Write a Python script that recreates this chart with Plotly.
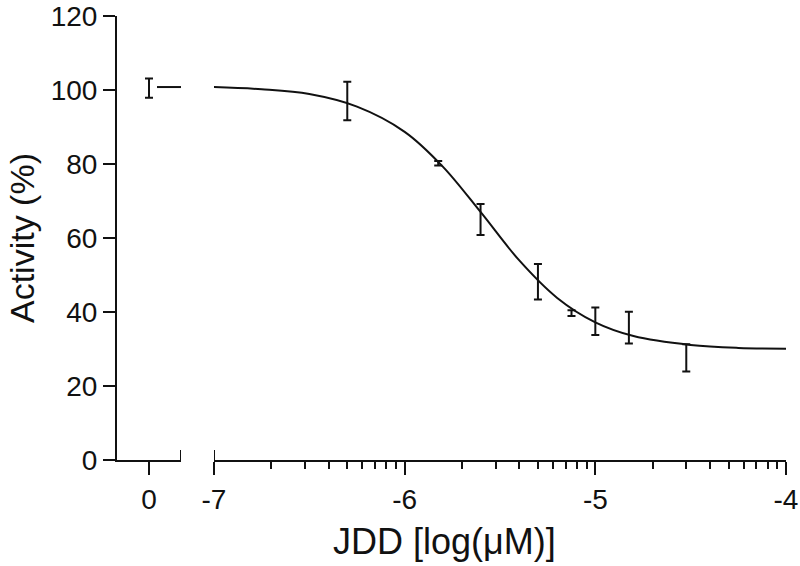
import numpy as np
import plotly.graph_objects as go

# ---------------- data ----------------
ctrl_x = [0.0]
ctrl_mean = [100.5]
ctrl_err = [2.6]

log_conc = [-6.301, -5.824, -5.602, -5.301, -5.125, -5.0, -4.824, -4.523]
activity_mean = [97.0, 80.2, 65.0, 48.2, 39.7, 37.5, 35.8, 27.6]
activity_err = [5.2, 0.6, 4.2, 4.8, 0.8, 3.7, 4.3, 3.7]

# fitted curve
curve_x = [-7.0, -6.75, -6.5, -6.25, -6.0, -5.8, -5.6, -5.4, -5.2, -5.0, -4.8, -4.5, -4.25, -4.0]
curve_y = [100.8, 100.2, 98.9, 95.5, 88.7, 79.3, 66.9, 54.0, 43.8, 37.2, 33.5, 31.1, 30.3, 30.1]

# top plateau drawn in the control segment
ctrl_curve_x = [0.25, 1.0]
ctrl_curve_y = [100.8, 100.8]

y_ticks = [0, 20, 40, 60, 80, 100, 120]
seg1_range = [-1.0, 1.0]
seg2_range = [-7.0, -4.0]
seg2_major = [-7, -6, -5, -4]
seg2_labels = ["-7", "-6", "-5", "-4"]
seg2_minor = [d + np.log10(k) for d in [-7, -6, -5] for k in range(2, 10)]

FONT = "Arial, 'Liberation Sans', Helvetica, sans-serif"
BLACK = "#111111"

fig = go.Figure()

fig.add_trace(go.Scatter(
    x=ctrl_curve_x, y=ctrl_curve_y, xaxis="x", yaxis="y", mode="lines",
    line=dict(color=BLACK, width=2), cliponaxis=False, showlegend=False, hoverinfo="skip"))
fig.add_trace(go.Scatter(
    x=ctrl_x, y=ctrl_mean, xaxis="x", yaxis="y", mode="markers",
    marker=dict(size=1, color="rgba(0,0,0,0)"),
    error_y=dict(type="data", array=ctrl_err, color=BLACK, thickness=2, width=4),
    cliponaxis=False, showlegend=False))

fig.add_trace(go.Scatter(
    x=curve_x, y=curve_y, xaxis="x2", yaxis="y", mode="lines",
    line=dict(color=BLACK, width=2, shape="spline", smoothing=1.0),
    cliponaxis=False, showlegend=False, hoverinfo="skip"))
fig.add_trace(go.Scatter(
    x=log_conc, y=activity_mean, xaxis="x2", yaxis="y", mode="markers",
    marker=dict(size=1, color="rgba(0,0,0,0)"),
    error_y=dict(type="data", array=activity_err, color=BLACK, thickness=2, width=4),
    cliponaxis=False, showlegend=False))

L, R, T, B = 117, 14, 16, 106
W, H = 800, 566
pw = W - L - R
seg1_end = (181 - L) / pw
seg2_start = (214 - L) / pw

axis_common = dict(
    showline=True, linecolor=BLACK, linewidth=2, showgrid=False, zeroline=False,
    ticks="outside", tickwidth=2, tickcolor=BLACK, automargin=False,
    tickfont=dict(family=FONT, size=28, color=BLACK), fixedrange=True,
)

fig.update_layout(
    width=W, height=H,
    margin=dict(l=L, r=R, t=T, b=B),
    paper_bgcolor="white", plot_bgcolor="white",
    xaxis=dict(domain=[0, seg1_end], range=seg1_range, anchor="y", ticklen=13,
               tickmode="array", tickvals=[0], ticktext=["0"], **axis_common),
    xaxis2=dict(domain=[seg2_start, 1], range=seg2_range, anchor="y", ticklen=13,
                tickmode="array", tickvals=seg2_major, ticktext=seg2_labels,
                minor=dict(tickmode="array", tickvals=seg2_minor, ticks="outside",
                           ticklen=7, tickwidth=2, tickcolor=BLACK),
                **axis_common),
    yaxis=dict(range=[0, 120], anchor="x", tickmode="array", tickvals=y_ticks,
               ticklen=12, **axis_common),
    showlegend=False,
)

# axis-break end bars
for xr, xv in [("x", seg1_range[1]), ("x2", seg2_range[0])]:
    fig.add_shape(type="line", xref=xr, yref="y", x0=xv, x1=xv,
                  ysizemode="pixel", yanchor=0, y0=-12, y1=10,
                  line=dict(color=BLACK, width=2))

fig.add_annotation(text="JDD [log(\u03bcM)]", xref="paper", yref="paper",
                   x=0.5, y=0, xanchor="center", yanchor="middle",
                   xshift=-7, yshift=-81, showarrow=False,
                   font=dict(family=FONT, size=36, color=BLACK))
fig.add_annotation(text="Activity (%)", xref="paper", yref="paper",
                   x=0, y=0.5, xanchor="center", yanchor="middle",
                   xshift=-95, textangle=-90, showarrow=False, borderpad=0,
                   font=dict(family=FONT, size=34, color=BLACK))

fig.write_html("out.html", config={"displayModeBar": False},
               post_script="document.body.style.margin='0';document.body.style.overflow='hidden';")
